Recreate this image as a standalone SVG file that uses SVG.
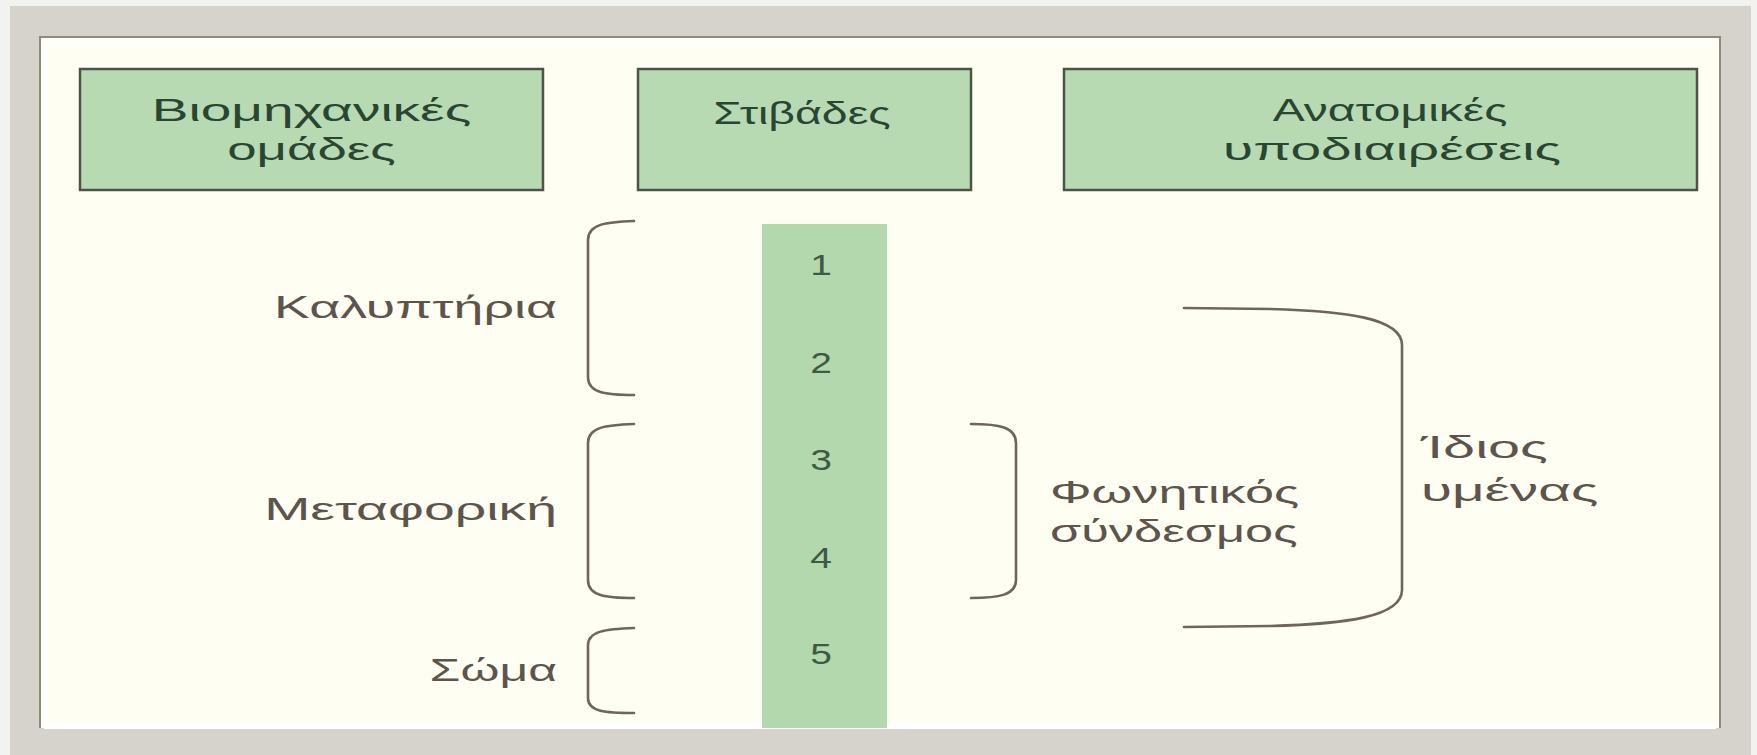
<svg xmlns="http://www.w3.org/2000/svg" width="1757" height="755" viewBox="0 0 1757 755">
<style>
.hdr{fill:#b7dab2;stroke:#4d5447;stroke-width:2.5}
.ht{font-family:"Liberation Sans",Arial,sans-serif;font-size:32px;fill:#2a4532;text-anchor:middle}
.lt{font-family:"Liberation Sans",Arial,sans-serif;font-size:32px;fill:#5d554c}
.num{font-family:"Liberation Sans",Arial,sans-serif;font-size:30px;fill:#3e5a45;text-anchor:middle}
.br{fill:none;stroke:#6e655b;stroke-width:2.6;stroke-linecap:round}
</style>
<rect x="0" y="0" width="1757" height="755" fill="#f2f2f0"/>
<rect x="10" y="6" width="1741" height="749" fill="#d6d3cc"/>
<rect x="40" y="37" width="1680" height="691" fill="#fefef3"/>
<path d="M40,728 V37 H1720 V728" fill="none" stroke="#8d8a80" stroke-width="2"/>
<path d="M44,726 H1716" stroke="#ffffff" stroke-width="6" fill="none"/>
<path d="M44,44 H1714 M46,44 V722" stroke="#ffffff" stroke-width="4" fill="none" opacity="0.8"/>

<g id="hdr-biomech">
<rect class="hdr" x="80" y="69" width="463" height="121"/>
<text class="ht" transform="translate(311.5,121) scale(1.72,1)">Βιομηχανικές</text>
<text class="ht" transform="translate(311.5,160) scale(1.65,1)">ομάδες</text>
</g>
<g id="hdr-layers">
<rect class="hdr" x="638" y="69" width="333" height="121"/>
<text class="ht" transform="translate(802,124) scale(1.45,1)">Στιβάδες</text>
</g>
<g id="hdr-anat">
<rect class="hdr" x="1064" y="69" width="633" height="121"/>
<text class="ht" transform="translate(1390,121) scale(1.5,1)">Ανατομικές</text>
<text class="ht" transform="translate(1392,160) scale(1.72,1)">υποδιαιρέσεις</text>
</g>

<g id="layers-column">
<rect x="762" y="224" width="125" height="504" fill="#b4d8ae"/>
<text class="num" transform="translate(821,275) scale(1.3,1)">1</text>
<text class="num" transform="translate(821,373) scale(1.3,1)">2</text>
<text class="num" transform="translate(821,470) scale(1.3,1)">3</text>
<text class="num" transform="translate(821,568) scale(1.3,1)">4</text>
<text class="num" transform="translate(821,664) scale(1.3,1)">5</text>
</g>

<g id="connectors">
<path class="br" d="M634,221 C606,222 588,224 588,240 V377 C588,393 606,395 634,395"/>
<path class="br" d="M634,424 C606,425 588,427 588,443 V580 C588,596 606,598 634,598"/>
<path class="br" d="M634,628 C606,629 588,631 588,645 V698 C588,712 606,713 634,713"/>
<path class="br" d="M971,424 C999,424 1016,427 1016,443 V580 C1016,595 999,598 971,598"/>
<path class="br" d="M1184,308 L1270,309 C1345,311 1402,318 1402,345 V590 C1402,617 1345,624 1270,626 L1184,627"/>
</g>

<g id="lbl-kalyptiria"><text class="lt" text-anchor="end" transform="translate(557,318) scale(1.68,1)">Καλυπτήρια</text></g>
<g id="lbl-metaforiki"><text class="lt" text-anchor="end" transform="translate(557,520) scale(1.73,1)">Μεταφορική</text></g>
<g id="lbl-soma"><text class="lt" text-anchor="end" transform="translate(557,681) scale(1.56,1)">Σώμα</text></g>
<g id="lbl-fonitikos">
<text class="lt" transform="translate(1050,503) scale(1.63,1)">Φωνητικός</text>
<text class="lt" transform="translate(1050,542) scale(1.58,1)">σύνδεσμος</text>
</g>
<g id="lbl-idios">
<text class="lt" transform="translate(1421,458) scale(1.8,1)">Ίδιος</text>
<text class="lt" transform="translate(1421,501) scale(1.77,1)">υμένας</text>
</g>
</svg>
